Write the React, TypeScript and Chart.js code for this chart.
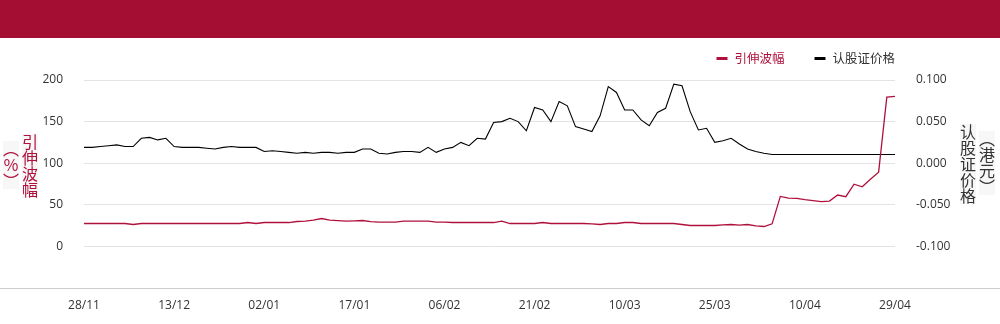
import React, { useEffect, useRef } from "react";
import { Chart, registerables } from "chart.js";

Chart.register(...registerables);

const DATES = [
  "28/11", "29/11",
  "02/12", "03/12", "04/12", "05/12", "06/12", "09/12", "10/12", "11/12", "12/12", "13/12",
  "16/12", "17/12", "18/12", "19/12", "20/12", "23/12", "24/12", "27/12", "30/12", "31/12",
  "02/01", "03/01", "06/01", "07/01", "08/01", "09/01", "10/01", "13/01", "14/01", "15/01",
  "16/01", "17/01", "20/01", "21/01", "22/01", "23/01", "24/01", "27/01", "28/01",
  "03/02", "04/02", "05/02", "06/02", "07/02", "10/02", "11/02", "12/02", "13/02", "14/02",
  "17/02", "18/02", "19/02", "20/02", "21/02", "24/02", "25/02", "26/02", "27/02", "28/02",
  "03/03", "04/03", "05/03", "06/03", "07/03", "10/03", "11/03", "12/03", "13/03", "14/03",
  "17/03", "18/03", "19/03", "20/03", "21/03", "24/03", "25/03", "26/03", "27/03", "28/03", "31/03",
  "01/04", "02/04", "03/04", "07/04", "08/04", "09/04", "10/04", "11/04", "14/04", "15/04",
  "16/04", "17/04", "22/04", "23/04", "24/04", "25/04", "28/04", "29/04",
];

const X_TICK_LABELS = ["28/11", "13/12", "02/01", "17/01", "06/02", "21/02", "10/03", "25/03", "10/04", "29/04"];

const VOLATILITY = [
  27.5, 27.5, 27.5, 27.5, 27.5, 27.5, 26.3, 27.5, 27.5, 27.5,
  27.5, 27.5, 27.5, 27.5, 27.5, 27.5, 27.5, 27.5, 27.5, 27.5,
  28.7, 27.5, 28.7, 28.7, 28.7, 28.7, 29.9, 30.3, 31.5, 33.5,
  31.5, 31.1, 30.3, 30.7, 31.1, 29.9, 29.1, 29.1, 29.1, 30.3,
  30.3, 30.3, 30.3, 29.1, 29.1, 28.7, 28.7, 28.7, 28.7, 28.7,
  28.7, 30.3, 27.5, 27.5, 27.5, 27.5, 28.7, 27.5, 27.5, 27.5,
  27.5, 27.5, 27.1, 26.3, 27.5, 27.5, 28.7, 28.7, 27.5, 27.5,
  27.5, 27.5, 27.5, 26.3, 25.1, 25.1, 25.1, 25.1, 25.9, 26.3,
  25.5, 26.3, 24.7, 23.9, 27.1, 60.1, 58.1, 57.7, 56.1, 54.9,
  53.7, 54.5, 61.7, 59.7, 74.8, 71.6, 80.8, 89.2, 179.5, 180.3,
];

const WARRANT_PRICE = [
  0.019, 0.019, 0.020, 0.021, 0.022, 0.020, 0.020, 0.030, 0.031, 0.028,
  0.030, 0.020, 0.019, 0.019, 0.019, 0.018, 0.017, 0.019, 0.020, 0.019,
  0.019, 0.019, 0.014, 0.015, 0.014, 0.013, 0.012, 0.013, 0.012, 0.013,
  0.013, 0.012, 0.013, 0.013, 0.017, 0.017, 0.012, 0.011, 0.013, 0.014,
  0.014, 0.013, 0.019, 0.013, 0.017, 0.019, 0.025, 0.021, 0.030, 0.029,
  0.049, 0.050, 0.054, 0.050, 0.039, 0.067, 0.064, 0.050, 0.074, 0.069,
  0.044, 0.041, 0.038, 0.057, 0.092, 0.085, 0.064, 0.064, 0.052, 0.045,
  0.061, 0.066, 0.095, 0.093, 0.062, 0.040, 0.042, 0.025, 0.027, 0.030,
  0.023, 0.017, 0.014, 0.012, 0.0105, 0.0105, 0.0105, 0.0105, 0.0105, 0.0105,
  0.0105, 0.0105, 0.0105, 0.0105, 0.0105, 0.0105, 0.0105, 0.0105, 0.0105, 0.0105,
];

const SERIES_NAMES = ["引伸波幅", "认股证价格"];
const LEFT_TITLE = ["引伸波幅", "（％）"];
const RIGHT_TITLE = ["认股证价格", "（港元）"];

const RED = "#b0103c";
const BAND = "#a50e33";
const TICK_FONT = "'Open Sans', 'Noto Sans', sans-serif";
const CJK_FONT = "'Noto Sans CJK SC', sans-serif";

export default function App() {
  const ref = useRef<HTMLCanvasElement>(null);

  useEffect(() => {
    document.body.style.margin = "0";
    const bandPlugin = {
      id: "band",
      beforeDraw(chart: any) {
        const c = chart.ctx;
        c.save();
        c.fillStyle = BAND;
        c.fillRect(0, 0, chart.width, 38);
        c.restore();
      },
    };
    const baseLinePlugin = {
      id: "baseLine",
      afterDraw(chart: any) {
        const c = chart.ctx;
        const y = Math.round(chart.chartArea.bottom) + 0.5;
        c.save();
        c.strokeStyle = "#cccccc";
        c.lineWidth = 1;
        c.beginPath();
        c.moveTo(0, y);
        c.lineTo(chart.width, y);
        c.stroke();
        c.restore();
      },
    };
    const legendPlugin = {
      id: "customLegend",
      afterDraw(chart: any) {
        const c = chart.ctx;
        c.save();
        c.font = `12.5px ${CJK_FONT}`;
        c.textBaseline = "middle";
        const y = 58.5;
        let x = chart.chartArea.right;
        const ds = chart.data.datasets;
        for (let k = ds.length - 1; k >= 0; k--) {
          const d = ds[k];
          const w = c.measureText(d.label).width;
          x -= w;
          c.fillStyle = d.borderColor === "#000000" ? "#333333" : d.borderColor;
          c.fillText(d.label, x, y);
          x -= 7 + 11;
          c.fillStyle = d.borderColor;
          c.fillRect(x, y - 1.5, 11, 3);
          x -= 30;
        }
        c.restore();
      },
    };

    const chart = new Chart(ref.current!, {
      type: "line",
      data: {
        labels: DATES,
        datasets: [
          {
            label: SERIES_NAMES[0],
            data: VOLATILITY,
            borderColor: RED,
            backgroundColor: RED,
            yAxisID: "y",
            borderWidth: 1.3,
            pointRadius: 0,
            tension: 0,
          },
          {
            label: SERIES_NAMES[1],
            data: WARRANT_PRICE,
            borderColor: "#000000",
            backgroundColor: "#000000",
            yAxisID: "y1",
            borderWidth: 1.1,
            pointRadius: 0,
            tension: 0,
          },
        ],
      },
      options: {
        animation: false,
        responsive: true,
        maintainAspectRatio: false,
        layout: { padding: { top: 80, left: 0, right: 0, bottom: 0 } },
        plugins: { legend: { display: false }, tooltip: { enabled: false } },
        scales: {
          x: {
            grid: { display: false, drawTicks: false },
            border: { display: false },
            ticks: {
              autoSkip: false,
              maxRotation: 0,
              minRotation: 0,
              padding: 10,
              color: "#333333",
              font: { family: TICK_FONT, size: 12 },
              callback: (_v: any, i: number) => (X_TICK_LABELS.includes(DATES[i]) ? DATES[i] : ""),
            },
            afterFit: (s: any) => {
              s.height = 36;
            },
          },
          y: {
            position: "left",
            min: -50,
            max: 200,
            ticks: {
              stepSize: 50,
              padding: 21,
              color: "#333333",
              font: { family: TICK_FONT, size: 12 },
              callback: (v: any) => (Number(v) < 0 ? "" : String(v)),
            },
            grid: {
              drawTicks: false,
              color: (ctx: any) => (ctx.tick && ctx.tick.value <= -50 ? "rgba(0,0,0,0)" : "#e3e3e3"),
            },
            border: { display: false },
            afterFit: (s: any) => {
              s.width = 84;
            },
          },
          y1: {
            position: "right",
            min: -0.15,
            max: 0.1,
            ticks: {
              stepSize: 0.05,
              padding: 21,
              color: "#333333",
              font: { family: TICK_FONT, size: 12 },
              callback: (v: any) => {
                const n = Number(v);
                if (n < -0.12) return "";
                return Math.abs(n) < 1e-9 ? "0.000" : n.toFixed(3);
              },
            },
            grid: { display: false, drawTicks: false },
            border: { display: false },
            afterFit: (s: any) => {
              s.width = 105;
            },
          },
        },
      },
      plugins: [bandPlugin, baseLinePlugin, legendPlugin],
    } as any);
    return () => chart.destroy();
  }, []);

  const col = (text: string, cx: number, cy: number, color: string) => (
    <div
      style={{
        position: "absolute",
        left: cx,
        top: cy,
        transform: "translate(-50%, -50%)",
        writingMode: "vertical-rl",
        fontFamily: CJK_FONT,
        fontSize: 16,
        lineHeight: 1,
        color,
        whiteSpace: "nowrap",
        background: "#f7f7f7",
      }}
    >
      {text}
    </div>
  );

  return (
    <div style={{ position: "relative", width: 1000, height: 324, overflow: "hidden", background: "#ffffff" }}>
      <canvas ref={ref} style={{ position: "absolute", left: 0, top: 0, width: 1000, height: 324 }} />
      {col(LEFT_TITLE[1], 11, 165, RED)}
      {col(LEFT_TITLE[0], 30, 166, RED)}
      {col(RIGHT_TITLE[0], 968, 164, "#333333")}
      {col(RIGHT_TITLE[1], 987, 163, "#333333")}
    </div>
  );
}
